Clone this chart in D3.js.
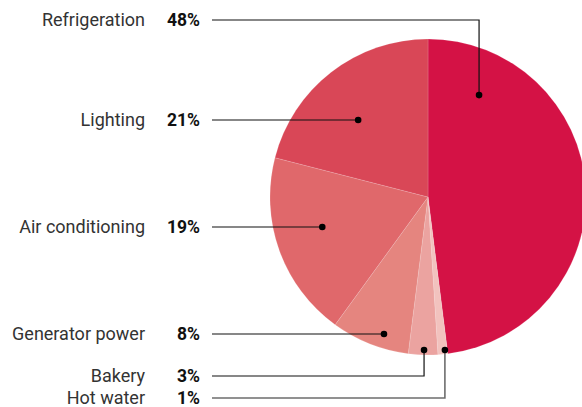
<!DOCTYPE html>
<html>
<head>
<meta charset="utf-8">
<script src="https://cdn.jsdelivr.net/npm/d3@7"></script>
<style>
  html, body { margin: 0; padding: 0; background: #fff; }
  svg { display: block; }
</style>
</head>
<body>
<div id="chart"></div>
<script>
const categories = ["Refrigeration", "Hot water", "Bakery", "Generator power", "Air conditioning", "Lighting"];
const shares = [48, 1, 3, 8, 19, 21];
const colours = ["#d41245", "#f2c2be", "#eba3a0", "#e5857f", "#e0686b", "#d94757"];

// where each callout dot sits inside its slice (fraction of slice angle, radius) and label row
const callouts = [
  { t: 0.154, r: 114, labelY: 20 },
  { t: 0.25, r: 154, labelY: 398 },
  { t: 0.47, r: 153, labelY: 376 },
  { t: 0.368, r: 144, labelY: 334 },
  { t: 0.555, r: 110, labelY: 227 },
  { t: 0.442, r: 104, labelY: 120 }
];

const width = 582, height = 407;
const cx = 428, cy = 197, radius = 158;

const svg = d3.select("#chart").append("svg")
  .attr("width", width)
  .attr("height", height);

const data = categories.map((c, i) => ({ name: c, value: shares[i], colour: colours[i], ...callouts[i] }));

const pie = d3.pie().value(d => d.value).sort(null);
const arc = d3.arc().innerRadius(0).outerRadius(radius);

const arcs = pie(data);

const g = svg.append("g").attr("transform", `translate(${cx},${cy})`);

g.selectAll("path")
  .data(arcs)
  .join("path")
  .attr("d", arc)
  .attr("fill", d => d.data.colour)
  .attr("stroke", "rgba(255,255,255,0.25)")
  .attr("stroke-width", 0.6);

const lineStart = 212;

arcs.forEach(a => {
  const d = a.data;
  const ang = a.startAngle + d.t * (a.endAngle - a.startAngle);
  const dx = cx + d.r * Math.sin(ang);
  let dy = cy - d.r * Math.cos(ang);
  const ly = d.labelY;
  if (Math.abs(dy - ly) < 6) dy = ly;

  svg.append("path")
    .attr("d", `M${lineStart},${ly}H${dx}V${dy}`)
    .attr("fill", "none")
    .attr("stroke", d.name === "Hot water" ? "#6e6e6e" : "#111")
    .attr("stroke-width", d.name === "Hot water" ? 1.6 : 1.2);

  svg.append("circle")
    .attr("cx", dx).attr("cy", dy).attr("r", 3.3)
    .attr("fill", "#000");

  svg.append("text")
    .attr("x", 145).attr("y", ly).attr("dy", "0.36em")
    .attr("text-anchor", "end")
    .attr("font-family", "Roboto, 'Liberation Sans', sans-serif")
    .attr("font-size", 18)
    .attr("fill", "#333")
    .text(d.name);

  svg.append("text")
    .attr("x", 200).attr("y", ly).attr("dy", "0.36em")
    .attr("text-anchor", "end")
    .attr("font-family", "Roboto, 'Liberation Sans', sans-serif")
    .attr("font-weight", "bold")
    .attr("font-size", 17.5)
    .attr("fill", "#111")
    .text(d.value + "%");
});
</script>
</body>
</html>
